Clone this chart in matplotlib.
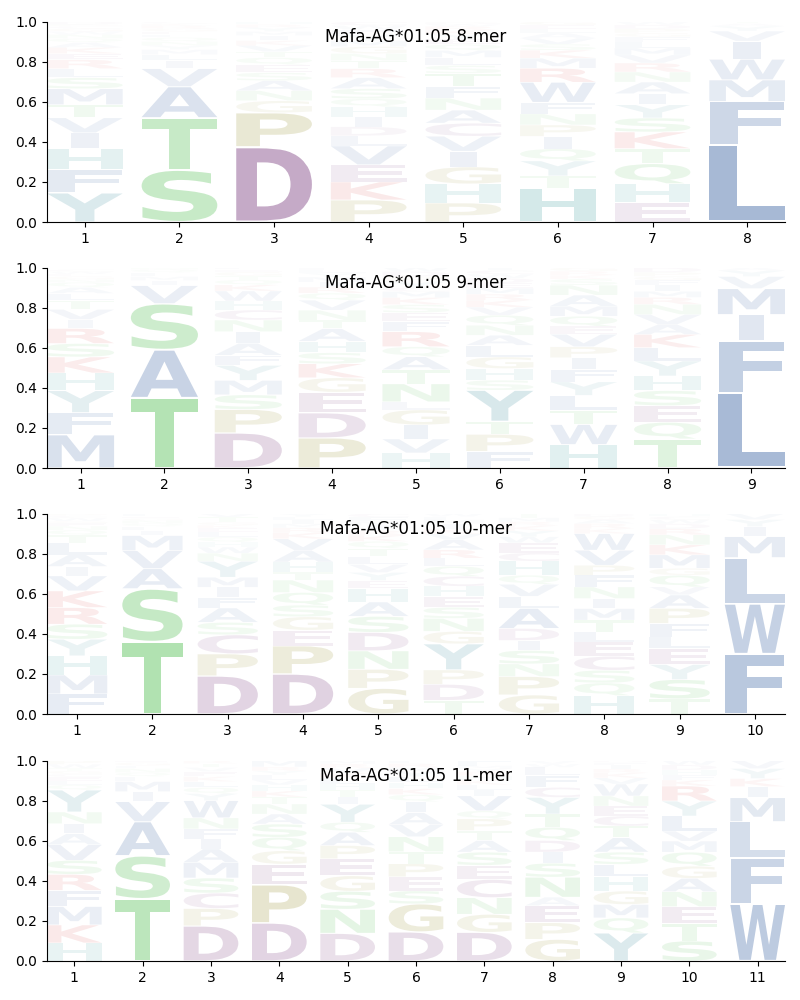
import matplotlib
matplotlib.use("Agg")
import matplotlib.pyplot as plt
from matplotlib.textpath import TextPath
from matplotlib.patches import PathPatch
from matplotlib.font_manager import FontProperties
from matplotlib.transforms import Affine2D

# ---------------- data (bottom -> top per position) ----------------
mer8_letters = ["YFHIVTMSLREKAQNWGCPD", "STAVILMYNQFEGRKC", "DPGNASEQTVKIMYRH",
                "PKEVLDIHQSARTNGMYFWC", "PHGIVCANFTSLMQEYKRWD", "HTYQIPNFWRMKSVALEG",
                "EHQTKSYIANRVMLFGPDW", "LFMWIVYAT"]
mer8_freqs = [
    [.145, .115, .105, .08, .075, .065, .08, .055, .045, .045, .03, .03, .025, .02, .02, .015, .015, .01, .01, .015],
    [.26, .26, .155, .09, .04, .03, .025, .02, .02, .02, .015, .015, .015, .015, .01, .01],
    [.375, .17, .06, .05, .05, .04, .04, .035, .03, .03, .025, .025, .02, .02, .015, .015],
    [.11, .09, .085, .095, .05, .045, .05, .05, .04, .05, .055, .045, .04, .035, .035, .03, .03, .025, .02, .02],
    [.095, .095, .085, .078, .075, .065, .065, .06, .058, .065, .04, .04, .035, .03, .025, .025, .02, .02, .01, .01],
    [.17, .06, .075, .06, .062, .057, .055, .058, .1, .07, .05, .04, .03, .03, .025, .02, .02, .018],
    [.096, .095, .1, .075, .083, .07, .066, .055, .058, .05, .045, .04, .035, .03, .025, .02, .02, .02, .017],
    [.386, .215, .108, .103, .09, .05, .025, .013, .01],
]

mer9_letters = ["MFYHKSRIVTLAQNGEWC", "TASVIMLQN", "DPSMYFAINCHWKQTGEL",
                "PDEGKSHATNVQRIMYLF", "HVIGLNTAQRFESKMCYPDW", "FPTYSHGLANQVKRMEDWCI",
                "HWTLYFIPVEQMANSKRG", "TQESHYLKAVNRMIFGPD", "LFIMVYA"]
mer9_freqs = [
    [.166, .11, .11, .088, .08, .067, .075, .045, .05, .045, .035, .03, .025, .015, .015, .012, .012, .01],
    [.35, .24, .23, .09, .025, .02, .02, .015, .01],
    [.175, .117, .073, .072, .075, .05, .06, .058, .058, .05, .045, .05, .03, .025, .02, .02, .012, .01],
    [.15, .125, .103, .072, .07, .055, .057, .063, .042, .05, .05, .035, .03, .025, .025, .02, .015, .013],
    [.075, .07, .07, .075, .04, .09, .07, .065, .05, .075, .05, .045, .04, .035, .03, .02, .03, .025, .025, .02],
    [.083, .085, .065, .155, .05, .058, .058, .058, .05, .05, .05, .04, .035, .03, .03, .025, .025, .02, .018, .015],
    [.117, .1, .07, .075, .068, .062, .058, .055, .062, .04, .05, .05, .055, .05, .03, .02, .02, .018],
    [.145, .083, .083, .075, .073, .075, .066, .066, .05, .05, .05, .035, .03, .03, .025, .02, .02, .024],
    [.375, .26, .13, .13, .06, .03, .015],
]

mer10_letters = ["FMHYSRKVIALTQNEGWCP", "TSAVMILQNGEF", "DPCSAFIMYNWHQLEKGTV",
                 "DPEGSQNTHAVKRMILY", "GPNDSAHEYVLTQKRIMFC", "TDPYGNSEHCQLRAVKIMFW",
                 "GPNSIDALVQHCEWYKRMT", "HQSCELTMINFPVWKRAGD", "TSYELFPAVQGMKNRDWCH",
                 "FWLMIYV"]
mer10_freqs = [
    [.1, .095, .095, .083, .075, .083, .083, .075, .047, .058, .058, .04, .025, .02, .015, .01, .015, .012, .011],
    [.36, .265, .1, .09, .075, .025, .02, .015, .015, .01, .01, .015],
    [.19, .11, .095, .062, .072, .053, .05, .05, .08, .04, .03, .025, .025, .025, .02, .015, .015, .025, .018],
    [.2, .14, .078, .067, .058, .063, .062, .04, .05, .058, .058, .03, .025, .02, .02, .015, .016],
    [.128, .095, .092, .092, .08, .072, .067, .04, .04, .04, .04, .04, .035, .03, .025, .025, .02, .02, .019],
    [.068, .08, .072, .13, .062, .065, .055, .055, .05, .05, .05, .04, .042, .05, .03, .025, .025, .02, .016, .015],
    [.095, .092, .063, .067, .05, .06, .1, .06, .06, .045, .07, .042, .05, .03, .03, .025, .02, .02, .021],
    [.092, .063, .063, .07, .072, .05, .058, .058, .05, .058, .058, .05, .075, .083, .025, .025, .02, .015, .015],
    [.075, .097, .075, .08, .058, .067, .075, .067, .04, .058, .035, .067, .05, .05, .03, .025, .02, .016, .015],
    [.3, .25, .23, .105, .05, .035, .03],
]

mer11_letters = ["HKMFRSVAINYQLECGTWP", "TSAVIMLQNFGE", "DPCSMAIFNWYQLKEVTR",
                 "DPEGQSANTKHVLYRM", "DNSGEPAQYITHLKVRM", "DGSEPTNVAIQKHLYMRF",
                 "DGNCESATPQVILKHRYMF", "GPEANSIDQTYCFLWV", "YQMGHLSATCENWVKRIFD",
                 "STENAGQMVLYRKFHDW", "WFLMIKYV"]
mer11_freqs = [
    [.09, .09, .092, .08, .08, .07, .078, .055, .05, .058, .11, .025, .02, .02, .015, .015, .013, .02, .019],
    [.31, .215, .17, .1, .05, .05, .025, .02, .02, .015, .015, .01],
    [.175, .087, .077, .075, .078, .067, .05, .05, .055, .086, .035, .03, .03, .025, .025, .02, .02, .015],
    [.19, .19, .103, .067, .067, .066, .05, .05, .035, .03, .03, .025, .025, .02, .02, .032],
    [.138, .12, .09, .077, .085, .066, .066, .05, .09, .036, .035, .03, .03, .025, .025, .02, .017],
    [.145, .14, .065, .07, .065, .06, .075, .06, .06, .055, .035, .03, .03, .03, .025, .02, .02, .015],
    [.143, .09, .083, .091, .07, .066, .058, .05, .058, .04, .075, .03, .025, .025, .02, .02, .015, .015, .026],
    [.108, .083, .085, .042, .1, .07, .055, .058, .066, .066, .083, .05, .06, .04, .017, .017],
    [.14, .075, .067, .067, .072, .061, .061, .072, .058, .05, .05, .05, .06, .03, .025, .02, .02, .012, .01],
    [.1, .088, .083, .075, .066, .061, .07, .055, .05, .075, .075, .075, .03, .025, .025, .025, .022],
    [.285, .23, .18, .12, .055, .04, .05, .04],
]

titles = ["Mafa-AG*01:05 8-mer", "Mafa-AG*01:05 9-mer",
          "Mafa-AG*01:05 10-mer", "Mafa-AG*01:05 11-mer"]

# ---------------- styling ----------------
group_colors = {
    "AVLIMFW": (0.10, 0.29, 0.58),
    "STNQ": (0.16, 0.69, 0.16),
    "DEC": (0.40, 0.12, 0.42),
    "KR": (0.82, 0.05, 0.05),
    "PG": (0.50, 0.48, 0.0),
    "H": (0.0, 0.50, 0.50),
    "Y": (0.04, 0.44, 0.52),
}
color_of = {}
for grp, c in group_colors.items():
    for ch in grp:
        color_of[ch] = c

FP = FontProperties(family="DejaVu Sans", weight="bold")
_cache = {}


def glyph(ch):
    if ch not in _cache:
        p = TextPath((0, 0), ch, size=1, prop=FP)
        _cache[ch] = (p, p.get_extents())
    return _cache[ch]


E_WIDTH = glyph("E")[1].width
LETTER_W = 0.8
VPAD = 0.04


def draw_letter(ax, ch, x, y0, h, color, alpha):
    p, ext = glyph(ch)
    sx = min(LETTER_W / ext.width, LETTER_W / E_WIDTH)
    cw = sx * ext.width
    pad = VPAD * h / 2
    sy = (h - 2 * pad) / ext.height
    t = (Affine2D().translate(-ext.x0, -ext.y0).scale(sx, sy)
         .translate(x - cw / 2, y0 + pad))
    ax.add_patch(PathPatch(t.transform_path(p), facecolor=color,
                           edgecolor="none", alpha=alpha))


fig = plt.figure(figsize=(8, 10), dpi=100)
panels = [(mer8_letters, mer8_freqs), (mer9_letters, mer9_freqs),
          (mer10_letters, mer10_freqs), (mer11_letters, mer11_freqs)]
bottoms = [0.778, 0.532, 0.286, 0.039]

for (letters, freqs), title, b in zip(panels, titles, bottoms):
    ax = fig.add_axes([0.05875, b, 0.9225, 0.2005])
    n = len(letters)
    for i in range(n):
        y = 0.0
        for ch, f in zip(letters[i], freqs[i]):
            draw_letter(ax, ch, i + 1, y, f, color_of[ch], min(1.0, f))
            y += f
    ax.set_xlim(0.6, n + 0.4)
    ax.set_ylim(0, 1)
    ax.set_xticks(range(1, n + 1))
    ax.set_yticks([0, 0.2, 0.4, 0.6, 0.8, 1.0])
    ax.spines["top"].set_visible(False)
    ax.spines["right"].set_visible(False)
    ax.text(0.5, 0.925, title, transform=ax.transAxes, ha="center",
            va="center", fontsize=12)

fig.savefig("out.png", dpi=100)
